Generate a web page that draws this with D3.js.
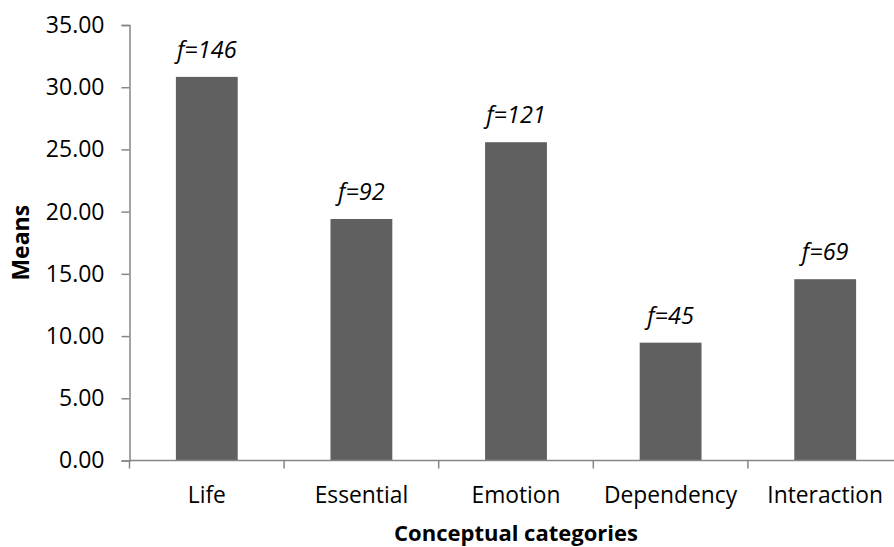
<!DOCTYPE html>
<html>
<head>
<meta charset="utf-8">
<script src="https://cdn.jsdelivr.net/npm/d3@7"></script>
<style>
  html, body { margin: 0; padding: 0; background: #fff; }
  svg { display: block; }
  text { font-family: "Open Sans", "Noto Sans", sans-serif; fill: #000; }
</style>
</head>
<body>
<svg id="chart" width="894" height="547"></svg>
<script>
// Mean scores per conceptual category, with frequency labels
const categories = ["Life", "Essential", "Emotion", "Dependency", "Interaction"];
const means = [30.83, 19.41, 25.58, 9.47, 14.57];
const freqLabels = ["f=146", "f=92", "f=121", "f=45", "f=69"];
const yTicks = [0, 5, 10, 15, 20, 25, 30, 35];

const svg = d3.select("#chart");
const axisColor = "#868686";
const barColor = "#606060";

const plotLeft = 129.5, plotRight = 902.5, plotTop = 25, plotBottom = 460.5;

const x = d3.scaleBand()
  .domain(categories)
  .range([plotLeft, plotRight])
  .paddingInner(0.6)
  .paddingOuter(0.3);

const y = d3.scaleLinear().domain([0, 35]).range([plotBottom, plotTop]);

// bars
svg.append("g").selectAll("rect")
  .data(categories)
  .join("rect")
  .attr("x", (d) => x(d))
  .attr("width", x.bandwidth())
  .attr("y", (d, i) => y(means[i]))
  .attr("height", (d, i) => y(0) - y(means[i]))
  .attr("fill", barColor);

// frequency labels above bars
svg.append("g").selectAll("text")
  .data(categories)
  .join("text")
  .attr("x", (d) => x(d) + x.bandwidth() / 2)
  .attr("y", (d, i) => y(means[i]) - 19)
  .attr("text-anchor", "middle")
  .style("font-size", "23.5px")
  .style("font-style", "italic")
  .text((d, i) => freqLabels[i]);

// y axis
const yAxis = svg.append("g")
  .attr("transform", `translate(${plotLeft},0)`)
  .call(d3.axisLeft(y).tickValues(yTicks).tickFormat(d3.format(".2f")).tickSize(8).tickPadding(17));
yAxis.select(".domain").attr("stroke", axisColor).attr("stroke-width", 1.5);
yAxis.selectAll(".tick line").attr("stroke", axisColor).attr("stroke-width", 1.5);
yAxis.selectAll(".tick text").style("font-size", "23px").attr("fill", "#000").attr("font-family", null);

// x axis: baseline with boundary ticks between categories
const step = x.step();
const boundaries = d3.range(categories.length + 1).map((i) => plotLeft + i * step);
const xg = svg.append("g");
xg.append("line")
  .attr("x1", plotLeft).attr("x2", plotRight)
  .attr("y1", plotBottom).attr("y2", plotBottom)
  .attr("stroke", axisColor).attr("stroke-width", 1.5);
xg.selectAll("line.tick")
  .data(boundaries)
  .join("line")
  .attr("class", "tick")
  .attr("x1", (d) => d).attr("x2", (d) => d)
  .attr("y1", plotBottom).attr("y2", plotBottom + 8)
  .attr("stroke", axisColor).attr("stroke-width", 1.5);
xg.selectAll("text")
  .data(categories)
  .join("text")
  .attr("x", (d) => x(d) + x.bandwidth() / 2)
  .attr("y", 503)
  .attr("text-anchor", "middle")
  .style("font-size", "22.8px")
  .text((d) => d);

// axis titles
svg.append("text")
  .attr("x", (plotLeft + plotRight) / 2)
  .attr("y", 541)
  .attr("text-anchor", "middle")
  .style("font-size", "22px")
  .style("font-weight", "bold")
  .text("Conceptual categories");

svg.append("text")
  .attr("transform", `translate(29,${(plotTop + plotBottom) / 2}) rotate(-90)`)
  .attr("text-anchor", "middle")
  .style("font-size", "23px")
  .style("font-weight", "bold")
  .text("Means");
</script>
</body>
</html>
